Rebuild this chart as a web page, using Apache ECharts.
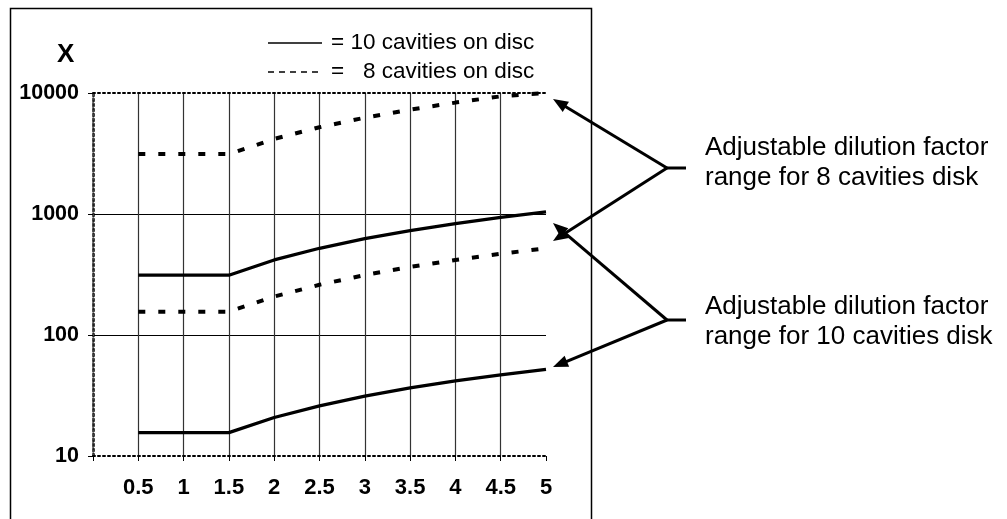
<!DOCTYPE html>
<html>
<head>
<meta charset="utf-8">
<script src="https://cdn.jsdelivr.net/npm/echarts@6/dist/echarts.min.js"></script>
<style>
html,body{margin:0;padding:0;background:#fff;}
#chart{width:1007px;height:519px;}
</style>
</head>
<body>
<div id="chart"></div>
<script>
// ---- data ----
var xValues = [0.5, 1, 1.5, 2, 2.5, 3, 3.5, 4, 4.5, 5];
var tenUpper = [312, 312, 312, 417, 521, 625, 729, 833, 938, 1040];
var tenLower = [15.6, 15.6, 15.6, 20.8, 26, 31.3, 36.5, 41.7, 46.9, 52];
var eightUpper = [3125, 3125, 3125, 4170, 5210, 6250, 7290, 8330, 9380, 10000];
var eightLower = [156, 156, 156, 208, 260, 313, 365, 417, 469, 521];
var yTicks = [10, 100, 1000, 10000];
var legendTexts = ['= 10 cavities on disc', '=   8 cavities on disc'];
var noteTexts = ['Adjustable dilution factor\nrange for 8 cavities disk',
                 'Adjustable dilution factor\nrange for 10 cavities disk'];

function pairs(ys){ return xValues.map(function(x,i){ return [x, ys[i]]; }); }

var chart = echarts.init(document.getElementById('chart'), null, {renderer:'canvas'});
var FONT = '"Liberation Sans", Arial, sans-serif';

function arrow(x1, y1, x2, y2){
  var dx = x2 - x1, dy = y2 - y1, len = Math.sqrt(dx*dx + dy*dy);
  var ux = dx/len, uy = dy/len, hl = 15, hw = 6;
  var bx = x2 - ux*hl, by = y2 - uy*hl;
  return [
    {type:'line', shape:{x1:x1, y1:y1, x2:bx + ux*2, y2:by + uy*2}, style:{stroke:'#000', lineWidth:3}, z:100},
    {type:'polygon', shape:{points:[[x2,y2],[bx - uy*hw, by + ux*hw],[bx + uy*hw, by - ux*hw]]}, style:{fill:'#000'}, z:100}
  ];
}

var graphics = [
  {type:'rect', shape:{x:10.5, y:8.5, width:581, height:530}, style:{fill:null, stroke:'#000', lineWidth:1.5}, z:0, silent:true},
  {type:'text', left:57, top:42, style:{text:'X', font:'bold 26px ' + FONT, fill:'#000'}},
  {type:'line', shape:{x1:268, y1:43, x2:322, y2:43}, style:{stroke:'#000', lineWidth:1.5}},
  {type:'line', shape:{x1:268, y1:72, x2:322, y2:72}, style:{stroke:'#000', lineWidth:1.5, lineDash:[6,5]}},
  {type:'text', x:331, y:43, style:{text:legendTexts[0], font:'22.5px ' + FONT, fill:'#000', textVerticalAlign:'middle'}},
  {type:'text', x:331, y:72, style:{text:legendTexts[1], font:'22.5px ' + FONT, fill:'#000', textVerticalAlign:'middle'}},
  {type:'text', x:705, y:163, style:{text:noteTexts[0], font:'26px ' + FONT, fill:'#000', textVerticalAlign:'middle', lineHeight:30}},
  {type:'text', x:705, y:322, style:{text:noteTexts[1], font:'26px ' + FONT, fill:'#000', textVerticalAlign:'middle', lineHeight:30}},
  {type:'line', shape:{x1:666, y1:168, x2:686, y2:168}, style:{stroke:'#000', lineWidth:3}},
  {type:'line', shape:{x1:666, y1:320, x2:686, y2:320}, style:{stroke:'#000', lineWidth:3}}
];
graphics = graphics.concat(arrow(667,168,553,99), arrow(667,168,553,241), arrow(667,320,553,223), arrow(667,320,553,367));

var lineCommon = {type:'line', symbol:'none', silent:true, animation:false, clip:true};

chart.setOption({
  animation:false,
  backgroundColor:'#fff',
  grid:{left:93, top:93, width:453, height:363},
  xAxis:[{
    type:'value', min:0, max:5, interval:0.5,
    axisLine:{show:true, lineStyle:{color:'#000', width:2, type:[2,3]}},
    axisTick:{show:true, length:5, lineStyle:{color:'#000', width:1}},
    axisLabel:{margin:21, color:'#000', fontFamily:FONT, fontWeight:'bold', fontSize:22,
      formatter:function(v){ return v === 0 ? '' : String(v); }},
    splitLine:{show:true, showMinLine:false, showMaxLine:false, lineStyle:{color:'#333', width:1.2}}
  },{
    type:'value', min:0, max:5, interval:0.5, position:'top',
    axisLine:{show:true, lineStyle:{color:'#000', width:2, type:[2,3]}},
    axisTick:{show:false}, axisLabel:{show:false}, splitLine:{show:false}
  }],
  yAxis:[{
    type:'log', logBase:10, min:10, max:10000,
    axisLine:{show:true, lineStyle:{color:'#000', width:2.5, type:[2,3]}},
    axisTick:{show:true, length:5, lineStyle:{color:'#000', width:1}},
    axisLabel:{margin:14, color:'#000', fontFamily:FONT, fontWeight:'bold', fontSize:21.5,
      formatter:function(v){ return String(Math.round(v)); }},
    splitLine:{show:true, showMinLine:false, showMaxLine:false, lineStyle:{color:'#000', width:1}},
    minorTick:{show:false}
  },{
    type:'log', logBase:10, min:10, max:10000, position:'right',
    axisLine:{show:true, lineStyle:{color:'#555', width:1.5, type:[2,2]}},
    axisTick:{show:false}, axisLabel:{show:false}, splitLine:{show:false}
  }],
  series:[
    Object.assign({}, lineCommon, {name:'10 upper', data:pairs(tenUpper), lineStyle:{color:'#000', width:3.3}}),
    Object.assign({}, lineCommon, {name:'10 lower', data:pairs(tenLower), lineStyle:{color:'#000', width:3.3}}),
    Object.assign({}, lineCommon, {name:'8 upper', data:pairs(eightUpper), lineStyle:{color:'#000', width:4, type:[7,13]}}),
    Object.assign({}, lineCommon, {name:'8 lower', data:pairs(eightLower), lineStyle:{color:'#000', width:4, type:[7,13]}})
  ],
  graphic:graphics
});
</script>
</body>
</html>
